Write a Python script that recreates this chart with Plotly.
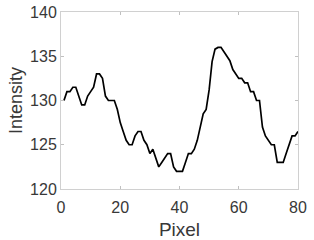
import plotly.graph_objects as go

pixel = list(range(1, 81))
intensity = [130, 131, 131, 131.5, 131.5, 130.5, 129.5, 129.5, 130.5, 131,
             131.5, 133, 133, 132.5, 130.5, 130, 130, 130, 129, 127.5,
             126.5, 125.5, 125, 125, 126, 126.5, 126.5, 125.5, 125, 124,
             124.5, 123.5, 122.5, 123, 123.5, 124, 124, 122.5, 122, 122,
             122, 123, 124, 124, 124.5, 125.5, 127, 128.5, 129, 131.2,
             134.4, 135.8, 136, 136, 135.5, 135, 134.5, 133.5, 133, 132.5,
             132.5, 132, 132, 131, 131, 130, 130, 127, 126, 125.5,
             125, 125, 123, 123, 123, 124, 125, 126, 126, 126.5]
x_ticks = [0, 20, 40, 60, 80]
y_ticks = [120, 125, 130, 135, 140]

fig = go.Figure(go.Scatter(x=pixel, y=intensity, mode="lines",
                           line=dict(color="black", width=1.7)))

axis_common = dict(showgrid=False, zeroline=False, showline=True, mirror="ticks",
                   linecolor="#d0d0d0", linewidth=1, ticks="inside", ticklen=3,
                   tickcolor="#c0c0c0", tickfont=dict(size=16, color="#383838"),
                   automargin=False)

fig.update_layout(
    width=314, height=240,
    margin=dict(l=61, r=16, t=12, b=51),
    paper_bgcolor="white", plot_bgcolor="white",
    font=dict(family="Liberation Sans, Arial, sans-serif"),
    showlegend=False,
    xaxis=dict(range=[0, 80], tickvals=x_ticks, ticklabelstandoff=4,
               title=dict(text="Pixel", standoff=10, font=dict(size=19, color="#383838")),
               **axis_common),
    yaxis=dict(range=[120, 140], tickvals=y_ticks,
               title=dict(text="Intensity", standoff=2, font=dict(size=18, color="#383838")),
               **axis_common),
)

fig.write_html("out.html", config={"displayModeBar": False},
               post_script="document.body.style.margin='0';document.body.style.padding='0';")
